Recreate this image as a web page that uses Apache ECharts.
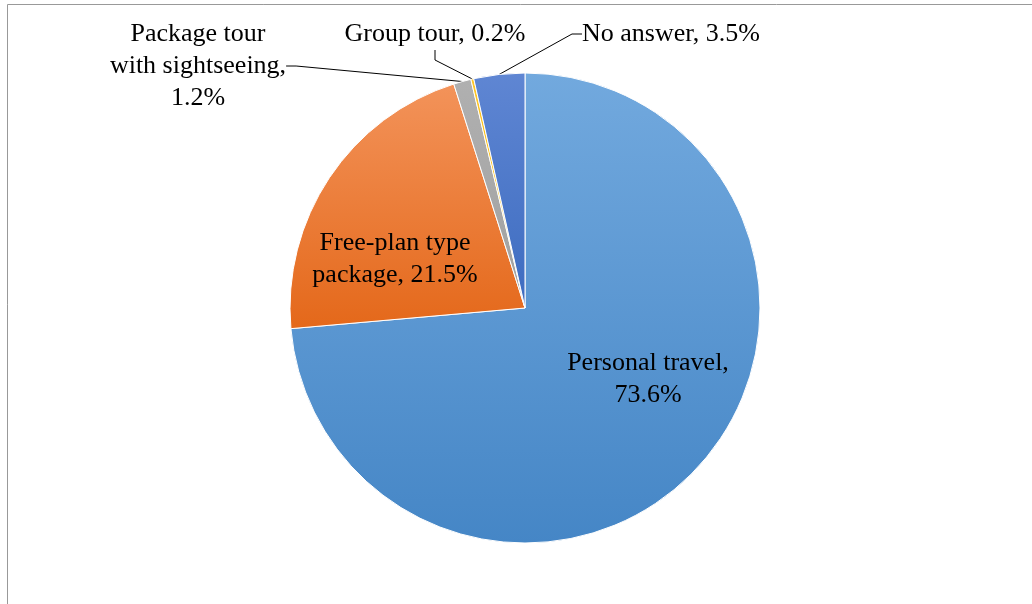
<!DOCTYPE html>
<html>
<head>
<meta charset="utf-8">
<script src="https://cdn.jsdelivr.net/npm/echarts@6/dist/echarts.min.js"></script>
<style>
    html, body { margin: 0; padding: 0; background: #fff; }
    #container { width: 1032px; height: 604px; }
</style>
</head>
<body>
<div id="container"></div>
<script type="text/javascript">
    // travel type shares (%)
    var names = ['Personal travel', 'Free-plan type package', 'Package tour with sightseeing', 'Group tour', 'No answer'];
    var values = [73.6, 21.5, 1.2, 0.2, 3.5];
    var labelTexts = [
        'Personal travel,\n73.6%',
        'Free-plan type\npackage, 21.5%',
        'Package tour\nwith sightseeing,\n1.2%',
        'Group tour, 0.2%',
        'No answer, 3.5%'
    ];
    // gradient top / bottom per slice
    var colorsTop = ['#72a9de', '#f3935a', '#b0b0b0', '#ffc62a', '#5f86d3'];
    var colorsBottom = ['#4586c6', '#e4681a', '#a0a0a0', '#f5b800', '#3d6cc0'];
    var inside = [true, true, false, false, false];
    // label centres
    var labelPos = [[648, 379], [395, 259], [198, 66], [435, 34], [671, 34]];

    var dom = document.getElementById('container');
    var myChart = echarts.init(dom);

    var data = [];
    for (var i = 0; i < names.length; i++) {
        data.push({
            name: names[i],
            value: values[i],
            itemStyle: {
                color: {
                    type: 'linear', x: 0, y: 0, x2: 0, y2: 1,
                    colorStops: [
                        { offset: 0, color: colorsTop[i] },
                        { offset: 1, color: colorsBottom[i] }
                    ]
                }
            },
            label: { position: inside[i] ? 'inside' : 'outside' },
            labelLine: { show: !inside[i] }
        });
    }

    var option = {
        backgroundColor: '#fff',
        animation: false,
        graphic: [{
            type: 'rect',
            shape: { x: 7.5, y: 4.5, width: 1100, height: 700 },
            style: { fill: 'none', stroke: '#999', lineWidth: 1 },
            silent: true
        }],
        series: [{
            type: 'pie',
            center: [525, 308],
            radius: 235,
            startAngle: 90,
            clockwise: true,
            avoidLabelOverlap: false,
            data: data,
            itemStyle: { borderColor: '#fff', borderWidth: 1 },
            label: {
                formatter: function (p) { return labelTexts[p.dataIndex]; },
                fontFamily: 'Liberation Serif',
                fontSize: 26,
                lineHeight: 32,
                color: '#000',
                align: 'center'
            },
            labelLine: {
                lineStyle: { color: '#000', width: 1 },
                length: 10,
                length2: 10
            },
            labelLayout: function (params) {
                var p = labelPos[params.dataIndex];
                return { x: p[0], y: p[1], align: 'center', verticalAlign: 'middle' };
            },
            emphasis: { disabled: true }
        }]
    };

    if (option && typeof option === 'object') {
        myChart.setOption(option);
    }
</script>
</body>
</html>
